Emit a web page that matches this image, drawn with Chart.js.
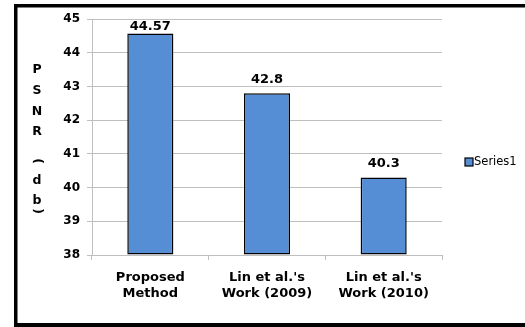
<!DOCTYPE html>
<html>
<head>
<meta charset="utf-8">
<script src="https://cdn.jsdelivr.net/npm/chart.js@4.4.1/dist/chart.umd.min.js"></script>
<style>
  html, body { margin: 0; padding: 0; background: #fff; overflow: hidden; }
  #wrap { width: 525px; height: 327px; position: relative; }
</style>
</head>
<body>
<div id="wrap"><canvas id="c" width="525" height="327"></canvas></div>
<script>
const categories = [["Proposed", "Method"], ["Lin et al.'s", "Work (2009)"], ["Lin et al.'s", "Work (2010)"]];
const seriesName = "Series1";
const psnrValues = [44.57, 42.8, 40.3];
const valueLabels = ["44.57", "42.8", "40.3"];
const yTitleChars = ["P", "S", "N", "R", " ", "(", "d", "b", ")"];
const yMin = 38, yMax = 45;

const BAR_BLUE = "#558ed5";
const GRID = "#bfbfbf";
const BOLD = "bold 12.5px 'DejaVu Sans'";

const decorPlugin = {
  id: "decor",
  beforeDraw(chart) {
    const ctx = chart.ctx;
    ctx.save();
    ctx.fillStyle = "#fff";
    ctx.fillRect(0, 0, chart.width, chart.height);
    ctx.restore();
  },
  afterDraw(chart) {
    const ctx = chart.ctx;
    const area = chart.chartArea;
    ctx.save();
    // outer frame (open on the right side)
    ctx.fillStyle = "#000";
    ctx.fillRect(14, 4, 525 - 14, 3.5);
    ctx.fillRect(14, 4, 3.5, 323 - 4);
    ctx.fillRect(14, 323, 525 - 14, 4);

    // stacked y-axis title
    ctx.fillStyle = "#000";
    ctx.font = BOLD;
    ctx.textAlign = "center";
    ctx.textBaseline = "middle";
    const x0 = 37;
    const ys = [70, 91, 112, 132, 146, 161, 181, 201, 211];
    yTitleChars.forEach((ch, i) => {
      if (ch === " ") return;
      if (ch === "(" || ch === ")") {
        ctx.save();
        ctx.translate(x0, ys[i]);
        ctx.rotate(Math.PI / 2);
        ctx.fillText(ch, 0, 0);
        ctx.restore();
      } else {
        ctx.fillText(ch, x0, ys[i]);
      }
    });

    // value labels
    ctx.font = "bold 13px 'DejaVu Sans'";
    ctx.textBaseline = "middle";
    const meta = chart.getDatasetMeta(0);
    meta.data.forEach((bar, i) => {
      const y = Math.max(bar.y - 14, area.top + 8);
      ctx.fillText(valueLabels[i], bar.x, y);
    });

    // legend
    const ds = chart.data.datasets[0];
    ctx.fillStyle = ds.backgroundColor;
    ctx.fillRect(465, 158, 8, 8);
    ctx.strokeStyle = "#000";
    ctx.lineWidth = 1.2;
    ctx.strokeRect(465, 158, 8, 8);
    ctx.fillStyle = "#000";
    ctx.font = "11.5px 'DejaVu Sans'";
    ctx.textAlign = "left";
    ctx.fillText(ds.label, 474, 162.5);
    ctx.restore();
  }
};

new Chart(document.getElementById("c"), {
  type: "bar",
  data: {
    labels: categories,
    datasets: [{
      label: seriesName,
      data: psnrValues,
      base: yMin,
      backgroundColor: BAR_BLUE,
      borderColor: "#000",
      borderWidth: 1.5,
      borderSkipped: false,
      categoryPercentage: 1,
      barPercentage: 0.395
    }]
  },
  options: {
    responsive: false,
    animation: false,
    devicePixelRatio: 1,
    layout: { padding: { left: 50, right: 83, top: 19, bottom: 0 } },
    plugins: { legend: { display: false }, tooltip: { enabled: false } },
    scales: {
      y: {
        min: yMin, max: yMax,
        ticks: { stepSize: 1, color: "#000", font: { family: "'DejaVu Sans'", weight: "bold", size: 12 }, padding: 7 },
        grid: { color: GRID, tickLength: 5, lineWidth: 1 },
        border: { color: GRID },
        afterFit(scale) { scale.width = 42; }
      },
      x: {
        ticks: { color: "#000", font: { family: "'DejaVu Sans'", weight: "bold", size: 13 }, padding: 10, maxRotation: 0 },
        grid: { drawOnChartArea: false, color: GRID, tickLength: 5, offset: true },
        border: { color: GRID },
        afterFit(scale) { scale.height = 72; }
      }
    }
  },
  plugins: [decorPlugin]
});
</script>
</body>
</html>
